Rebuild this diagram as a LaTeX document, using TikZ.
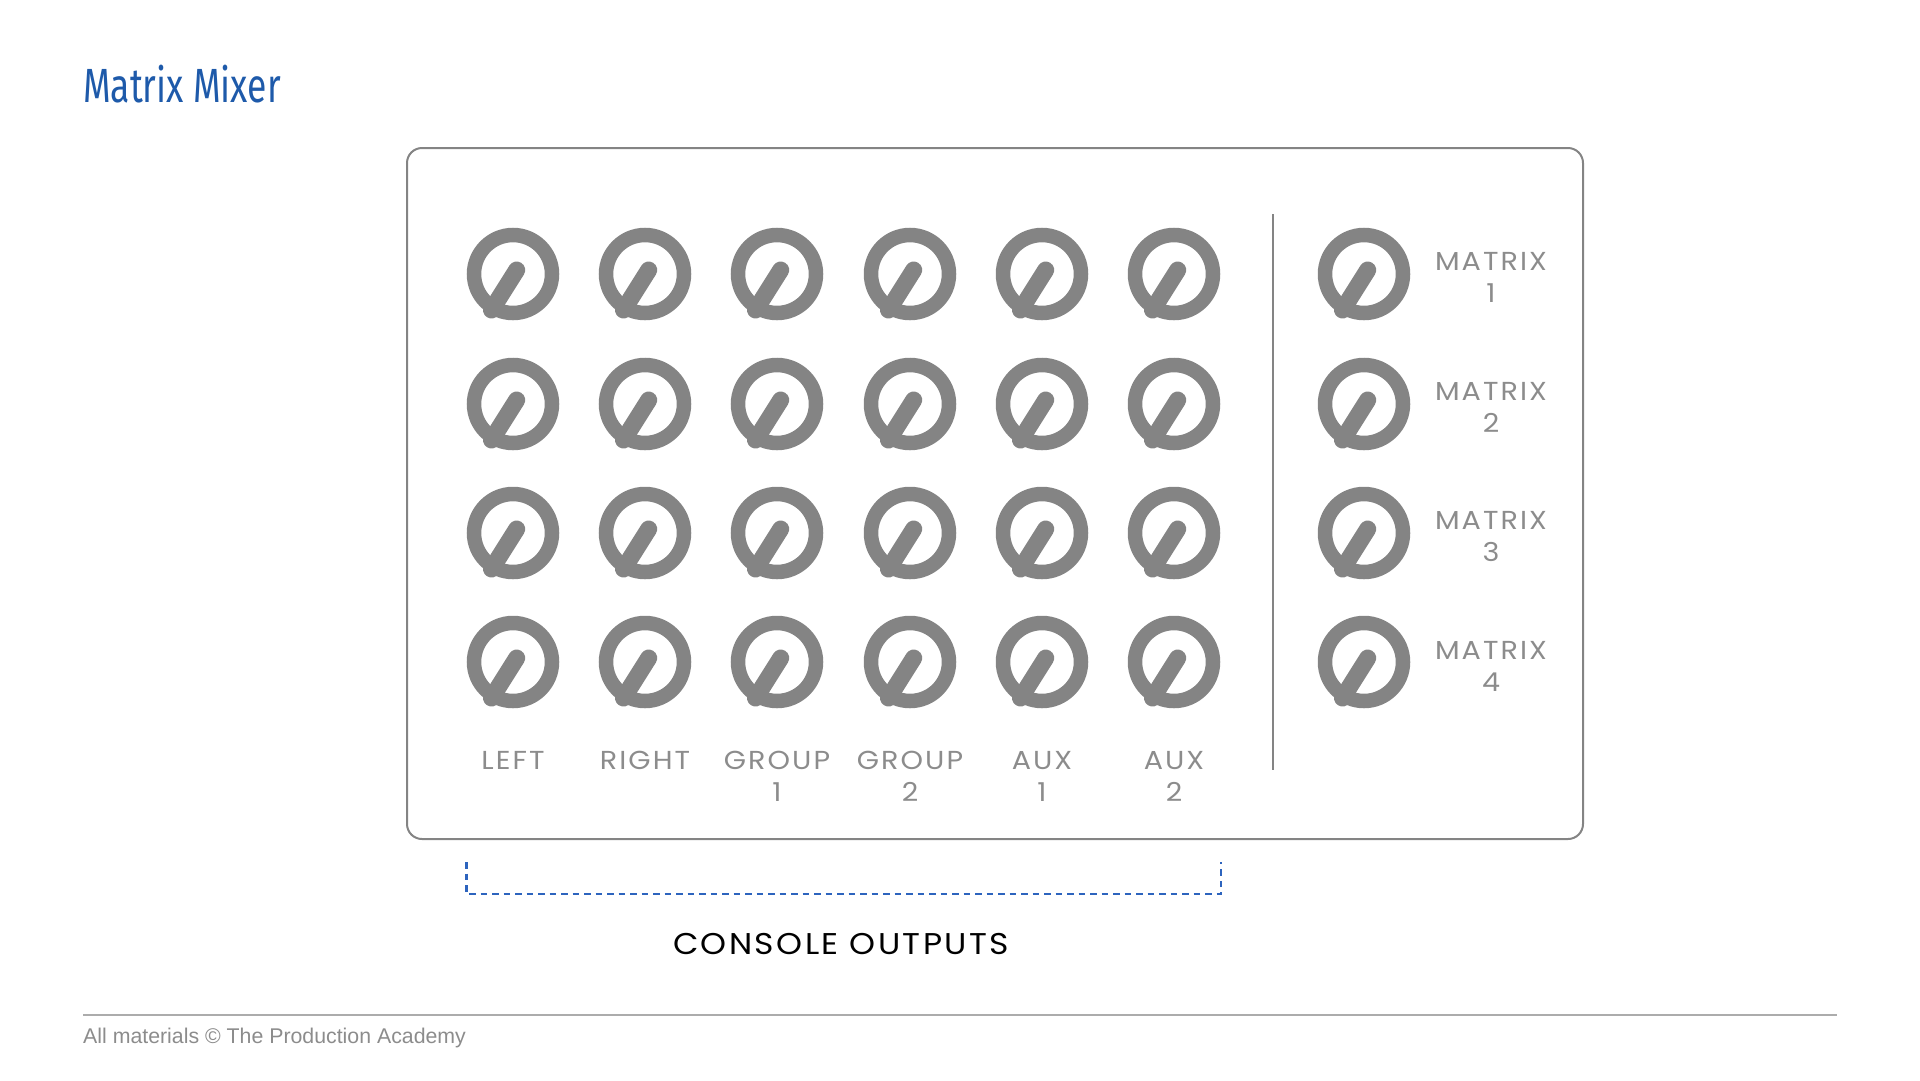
\documentclass[tikz,border=0pt]{standalone}
\usepackage{fontspec}
\setmainfont{Poppins}
\newfontfamily\widefont[FakeStretch=1.1,LetterSpace=8]{Poppins}
\newfontfamily\titlefont[FakeStretch=0.74]{Fira Sans}
\newfontfamily\footfont{Liberation Sans}

\definecolor{knobgray}{RGB}{132,132,132}
\definecolor{labelgray}{RGB}{140,140,140}
\definecolor{titleblue}{RGB}{30,90,170}
\definecolor{bracketblue}{RGB}{45,100,190}

\tikzset{
	knobring/.style={draw=knobgray, line width=14.5pt},
	knobarm/.style={draw=knobgray, line width=17pt, line cap=round},
	chlabel/.style={text=labelgray, font=\widefont\fontsize{26}{32}\selectfont, align=center, anchor=base, inner sep=0pt},
}

% one knob: name, x, y (pixels, y down)
\newcommand{\knob}[3]{\coordinate (#1) at (#2,#3);
	\draw[knobring] (#1) circle[radius=39pt];
	\draw[knobarm] (#1) ++(3.7,-4) -- ++(-25.2,40);}

\begin{document}
\begin{tikzpicture}[x=1pt,y=-1pt]
		\useasboundingbox (0,0) rectangle (1920,1080);
		
		\node[anchor=base west, inner sep=0pt, text=titleblue, font=\titlefont\fontsize{48}{48}\selectfont] (title) at (83,102) {Matrix Mixer};
		
		\draw[knobgray, line width=2pt, rounded corners=15pt] (407,148) rectangle (1583,839);
		\draw[knobgray, line width=2.5pt] (1273,214) -- (1273,770);
		
		\knob{k11}{513}{274} \knob{k12}{645}{274} \knob{k13}{777}{274} \knob{k14}{910}{274} \knob{k15}{1042}{274} \knob{k16}{1174}{274} \knob{m1}{1364}{274}
		\knob{k21}{513}{404} \knob{k22}{645}{404} \knob{k23}{777}{404} \knob{k24}{910}{404} \knob{k25}{1042}{404} \knob{k26}{1174}{404} \knob{m2}{1364}{404}
		\knob{k31}{513}{533} \knob{k32}{645}{533} \knob{k33}{777}{533} \knob{k34}{910}{533} \knob{k35}{1042}{533} \knob{k36}{1174}{533} \knob{m3}{1364}{533}
		\knob{k41}{513}{662} \knob{k42}{645}{662} \knob{k43}{777}{662} \knob{k44}{910}{662} \knob{k45}{1042}{662} \knob{k46}{1174}{662} \knob{m4}{1364}{662}
		
		% base of a two-line label is its last line
		\node[chlabel] (left) at (513,769) {LEFT};
		\node[chlabel] (right) at (645,769) {RIGHT};
		\node[chlabel] (grp1) at (777,801) {GROUP\\1};
		\node[chlabel] (grp2) at (910,801) {GROUP\\2};
		\node[chlabel] (aux1) at (1042,801) {AUX\\1};
		\node[chlabel] (aux2) at (1174,801) {AUX\\2};
		
		\node[chlabel] (mtx1) at (1491,302) {MATRIX\\1};
		\node[chlabel] (mtx2) at (1491,432) {MATRIX\\2};
		\node[chlabel] (mtx3) at (1491,561) {MATRIX\\3};
		\node[chlabel] (mtx4) at (1491,691) {MATRIX\\4};
		
		\coordinate (brl) at (466.5,862); \coordinate (brr) at (1221,862);
		\draw[bracketblue, line width=2.7pt, dash pattern=on 6.5pt off 5pt] (brl) -- ++(0,32) -| (brr);
		\node[anchor=base, inner sep=0pt, font=\widefont\fontsize{30}{30}\selectfont] (outputs) at (841,954) {CONSOLE OUTPUTS};
		
		\draw[gray!65, line width=2.5pt] (83,1015) -- (1837,1015);
		\node[anchor=base west, inner sep=0pt, text=labelgray, font=\footfont\fontsize{21.3}{21.3}\selectfont] (foot) at (83,1043) {All materials © The Production Academy};
\end{tikzpicture}
\end{document}
